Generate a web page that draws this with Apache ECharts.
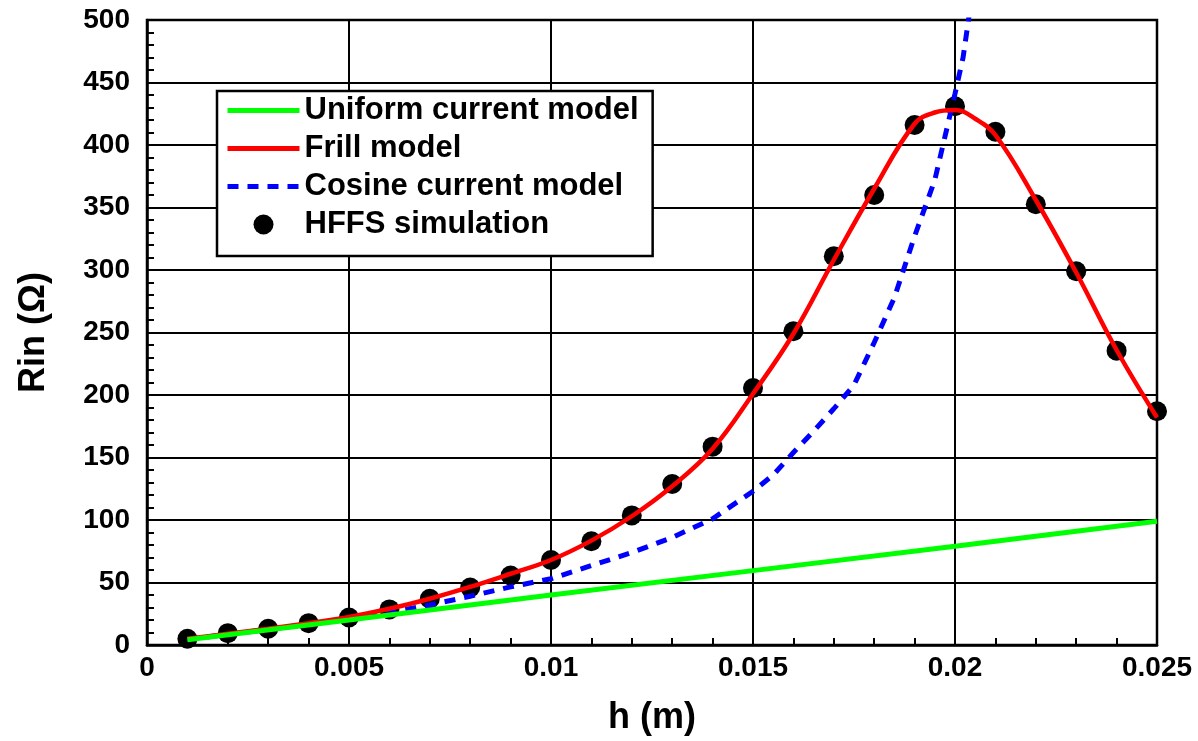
<!DOCTYPE html>
<html>
<head>
<meta charset="utf-8">
<script src="https://cdn.jsdelivr.net/npm/echarts@6/dist/echarts.min.js"></script>
<style>html,body{margin:0;padding:0;background:#fff;}#c{width:1198px;height:741px;}</style>
</head>
<body>
<div id="c"></div>
<script>
// ---- data ----
const xTickLabels = ['0', '0.005', '0.01', '0.015', '0.02', '0.025'];
const uniformH = [0.001, 0.005, 0.010, 0.015, 0.020, 0.025];
const uniformR = [4.2, 20, 40, 59.5, 79, 99];
const frillH = [0.001, 0.002, 0.003, 0.004, 0.005, 0.006, 0.007, 0.008, 0.009, 0.010, 0.011, 0.012, 0.013, 0.014, 0.015, 0.016, 0.017, 0.018, 0.019, 0.0195, 0.020, 0.0205, 0.021, 0.022, 0.023, 0.024, 0.025];
const frillR = [5, 9, 13, 17.5, 22.5, 29, 37, 46.5, 57, 68, 83.5, 103, 127, 157, 201, 249, 308, 365, 417, 426, 428, 421, 408, 356, 298, 236, 182];
const cosineH = [0.001, 0.002, 0.003, 0.004, 0.005, 0.006, 0.007, 0.008, 0.009, 0.010, 0.011, 0.012, 0.013, 0.014, 0.015, 0.0155, 0.016, 0.0165, 0.017, 0.0175, 0.018, 0.0185, 0.019, 0.0195, 0.020, 0.0202, 0.0204];
const cosineR = [4.5, 8.5, 12.5, 16.5, 21, 26, 32, 39, 46.5, 53, 63.5, 74, 86, 101, 123, 136, 154, 171, 189, 208, 242, 278, 327, 372, 441, 470, 515];
const hffsH = [0.001, 0.002, 0.003, 0.004, 0.005, 0.006, 0.007, 0.008, 0.009, 0.010, 0.011, 0.012, 0.013, 0.014, 0.015, 0.016, 0.017, 0.018, 0.019, 0.020, 0.021, 0.022, 0.023, 0.024, 0.025];
const hffsR = [5, 9.5, 13, 17.5, 22, 28.5, 37, 46, 55.6, 68, 83, 103.7, 128.8, 158.7, 205.6, 251, 311, 360, 416, 431, 410.6, 352.6, 299, 235.5, 187];

const pairs = (xs, ys) => xs.map((x, i) => [x, ys[i]]);

const chart = echarts.init(document.getElementById('c'), null, {renderer: 'canvas'});
const tickFont = {fontFamily: 'Liberation Sans', fontWeight: 'bold', fontSize: 28, color: '#000'};
const nameFont = {fontFamily: 'Liberation Sans', fontWeight: 'bold', fontSize: 36, color: '#000'};
const hiddenSym = {opacity: 0, color: 'rgba(0,0,0,0)', borderWidth: 0};

chart.setOption({
  animation: false,
  backgroundColor: '#fff',
  grid: {left: 147, right: 41, top: 20, bottom: 91, show: true, borderColor: '#000', borderWidth: 2.5, backgroundColor: 'transparent'},
  legend: {
    orient: 'vertical', left: 217, top: 91,
    data: [
      {name: 'Uniform current model', itemStyle: hiddenSym},
      {name: 'Frill model', itemStyle: hiddenSym},
      {name: 'Cosine current model', itemStyle: hiddenSym},
      {name: 'HFFS simulation'}
    ],
    backgroundColor: '#fff', borderColor: '#000', borderWidth: 2.5,
    padding: [4, 14, 16, 8], itemGap: 7, itemWidth: 72, itemHeight: 20,
    lineStyle: {width: 5},
    textStyle: {fontFamily: 'Liberation Sans', fontWeight: 'bold', fontSize: 31, color: '#000'},
    selectedMode: false
  },
  xAxis: {
    type: 'value', min: 0, max: 0.025, interval: 0.005,
    name: 'h (m)', nameLocation: 'middle', nameGap: 55, nameTextStyle: nameFont,
    axisLine: {show: true, lineStyle: {color: '#000', width: 2.5}},
    axisTick: {show: true, inside: true, length: 7, lineStyle: {color: '#000', width: 2}},
    minorTick: {show: true, splitNumber: 5, length: 7, lineStyle: {color: '#000', width: 2}},
    splitLine: {show: true, lineStyle: {color: '#000', width: 2}},
    axisLabel: Object.assign({margin: 9, formatter: (v, i) => xTickLabels[i]}, tickFont)
  },
  yAxis: {
    type: 'value', min: 0, max: 500, interval: 50,
    name: 'Rin (Ω)', nameLocation: 'middle', nameGap: 95, nameTextStyle: nameFont,
    axisLine: {show: true, lineStyle: {color: '#000', width: 2.5}},
    axisTick: {show: true, inside: true, length: 7, lineStyle: {color: '#000', width: 2}},
    minorTick: {show: true, splitNumber: 5, length: 7, lineStyle: {color: '#000', width: 2}},
    splitLine: {show: true, lineStyle: {color: '#000', width: 2}},
    axisLabel: Object.assign({margin: 17}, tickFont)
  },
  series: [
    {name: 'HFFS simulation', type: 'scatter', z: 1, symbol: 'circle', symbolSize: 20,
     itemStyle: {color: '#000', opacity: 1}, data: pairs(hffsH, hffsR)},
    {name: 'Cosine current model', type: 'line', z: 2, symbol: 'none', showSymbol: false, clip: true,
     lineStyle: {color: '#0000ff', width: 5, type: [11, 9]}, itemStyle: {color: '#0000ff'},
     data: pairs(cosineH, cosineR)},
    {name: 'Frill model', type: 'line', z: 3, symbol: 'none', showSymbol: false, smooth: 0.4,
     lineStyle: {color: '#ff0000', width: 4.5}, itemStyle: {color: '#ff0000'},
     data: pairs(frillH, frillR)},
    {name: 'Uniform current model', type: 'line', z: 4, symbol: 'none', showSymbol: false,
     lineStyle: {color: '#00ff00', width: 5}, itemStyle: {color: '#00ff00'},
     data: pairs(uniformH, uniformR)}
  ]
});
</script>
</body>
</html>
